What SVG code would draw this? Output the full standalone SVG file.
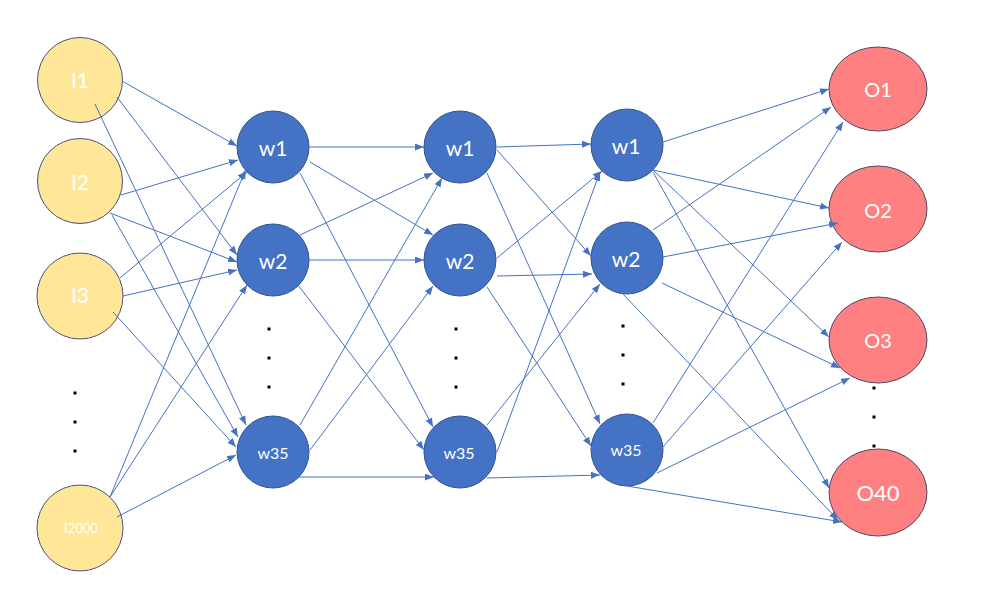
<svg xmlns="http://www.w3.org/2000/svg" width="986" height="602" viewBox="0 0 986 602">
<style>
.inp{fill:#FFE699;stroke:#4A5270;stroke-width:1}
.hid{fill:#4472C4;stroke:#2F528F;stroke-width:1}
.out{fill:#FF8080;stroke:#4A4A6A;stroke-width:1}
.lbl{fill:#FFFFFF;font-family:Lato,"Open Sans","Liberation Sans",sans-serif;text-anchor:middle}
.dot{fill:#000000}
#connectors line{stroke:#4472C4;stroke-width:1;fill:none;marker-end:url(#arr)}
</style>
<defs>
<marker id="arr" markerUnits="userSpaceOnUse" markerWidth="10" markerHeight="8" refX="9" refY="3.5" orient="auto">
<path d="M0,0 L9,3.5 L0,7 z" fill="#4472C4"/>
</marker>
</defs>
<rect width="986" height="602" fill="#FFFFFF"/>

<g id="I1"><circle class="inp" cx="80" cy="80" r="42.5"/><text class="lbl" x="80" y="87.5" font-size="21">I1</text></g>
<g id="I2"><circle class="inp" cx="80" cy="181" r="42.5"/><text class="lbl" x="80" y="190" font-size="21">I2</text></g>
<g id="I3"><circle class="inp" cx="80" cy="296" r="43"/><text class="lbl" x="80" y="302.5" font-size="21">I3</text></g>
<g id="I2000"><circle class="inp" cx="80" cy="528" r="43"/><text class="lbl" x="81" y="533" font-size="13">I2000</text></g>

<g id="L1_w1"><circle class="hid" cx="273" cy="147" r="36"/><text class="lbl" x="273" y="155.5" font-size="21">w1</text></g>
<g id="L1_w2"><circle class="hid" cx="273" cy="260" r="36"/><text class="lbl" x="273" y="268.5" font-size="21">w2</text></g>
<g id="L1_w35"><circle class="hid" cx="273" cy="452" r="36"/><text class="lbl" x="273" y="458.5" font-size="16">w35</text></g>

<g id="L2_w1"><circle class="hid" cx="460" cy="147" r="36"/><text class="lbl" x="460" y="155.5" font-size="21">w1</text></g>
<g id="L2_w2"><circle class="hid" cx="460" cy="260" r="36"/><text class="lbl" x="460" y="268.5" font-size="21">w2</text></g>
<g id="L2_w35"><circle class="hid" cx="460" cy="452" r="36"/><text class="lbl" x="459" y="458.5" font-size="16">w35</text></g>

<g id="L3_w1"><circle class="hid" cx="627" cy="145" r="36"/><text class="lbl" x="626" y="153.5" font-size="21">w1</text></g>
<g id="L3_w2"><circle class="hid" cx="627" cy="258" r="36"/><text class="lbl" x="626" y="266.5" font-size="21">w2</text></g>
<g id="L3_w35"><circle class="hid" cx="627" cy="450" r="36"/><text class="lbl" x="626" y="456" font-size="16">w35</text></g>

<g id="O1"><ellipse class="out" cx="878" cy="89" rx="49" ry="42"/><text class="lbl" x="878" y="96.5" font-size="20">O1</text></g>
<g id="O2"><ellipse class="out" cx="878" cy="209" rx="49" ry="43"/><text class="lbl" x="878" y="217.5" font-size="20">O2</text></g>
<g id="O3"><ellipse class="out" cx="878" cy="340" rx="49" ry="43"/><text class="lbl" x="878" y="347.5" font-size="20">O3</text></g>
<g id="O40"><ellipse class="out" cx="878" cy="492.5" rx="49" ry="43.5"/><text class="lbl" x="878" y="500.5" font-size="22">O40</text></g>

<g id="ellipsis">
<rect class="dot" x="73.5" y="391.5" width="3" height="3"/>
<rect class="dot" x="73.5" y="420.5" width="3" height="3"/>
<rect class="dot" x="73.5" y="449.5" width="3" height="3"/>
<rect class="dot" x="267.5" y="327.5" width="3" height="3"/>
<rect class="dot" x="267.5" y="356.5" width="3" height="3"/>
<rect class="dot" x="267.5" y="385.5" width="3" height="3"/>
<rect class="dot" x="454.5" y="327.5" width="3" height="3"/>
<rect class="dot" x="454.5" y="356.5" width="3" height="3"/>
<rect class="dot" x="454.5" y="385.5" width="3" height="3"/>
<rect class="dot" x="621.5" y="324.5" width="3" height="3"/>
<rect class="dot" x="621.5" y="353.5" width="3" height="3"/>
<rect class="dot" x="621.5" y="382.5" width="3" height="3"/>
<rect class="dot" x="872.5" y="386.5" width="3" height="3"/>
<rect class="dot" x="872.5" y="415.5" width="3" height="3"/>
<rect class="dot" x="872.5" y="444.5" width="3" height="3"/>
</g>

<g id="connectors">
<line x1="122" y1="81" x2="237" y2="146"/>
<line x1="117" y1="97" x2="237" y2="255"/>
<line x1="95" y1="104" x2="246" y2="425"/>
<line x1="121" y1="195" x2="238" y2="160"/>
<line x1="110" y1="213" x2="237" y2="262"/>
<line x1="112" y1="215" x2="238" y2="437"/>
<line x1="120" y1="278" x2="247" y2="172"/>
<line x1="123" y1="296" x2="237" y2="270"/>
<line x1="113" y1="312" x2="236" y2="447"/>
<line x1="110" y1="497" x2="245.5" y2="170"/>
<line x1="110" y1="497" x2="247" y2="285"/>
<line x1="117" y1="517" x2="236" y2="455"/>

<line x1="309" y1="147" x2="424" y2="147"/>
<line x1="310" y1="162" x2="433" y2="235"/>
<line x1="300" y1="173" x2="433" y2="427"/>
<line x1="300" y1="235" x2="433" y2="173"/>
<line x1="309" y1="260" x2="424" y2="260"/>
<line x1="298" y1="285" x2="424" y2="450"/>
<line x1="300" y1="425" x2="442" y2="178"/>
<line x1="310" y1="450" x2="433" y2="286"/>
<line x1="297" y1="477" x2="434" y2="477"/>

<line x1="497" y1="147" x2="591" y2="144"/>
<line x1="497" y1="150" x2="591" y2="256"/>
<line x1="487" y1="173" x2="600" y2="424"/>
<line x1="497" y1="258" x2="602" y2="171"/>
<line x1="497" y1="276" x2="592" y2="274"/>
<line x1="487" y1="287" x2="591" y2="446"/>
<line x1="497" y1="452" x2="600" y2="172"/>
<line x1="487" y1="425" x2="600" y2="284"/>
<line x1="487" y1="478" x2="600" y2="475"/>

<line x1="663" y1="142" x2="829" y2="89"/>
<line x1="653" y1="170" x2="829" y2="208"/>
<line x1="653" y1="170" x2="829" y2="337"/>
<line x1="653" y1="172" x2="829" y2="488"/>
<line x1="653" y1="230" x2="831" y2="107"/>
<line x1="663" y1="257" x2="838" y2="223"/>
<line x1="662" y1="283" x2="840" y2="368"/>
<line x1="622" y1="293" x2="838" y2="520"/>
<line x1="653" y1="423" x2="843" y2="122"/>
<line x1="662" y1="448" x2="842" y2="242"/>
<line x1="657" y1="473" x2="850" y2="378"/>
<line x1="627" y1="486" x2="842" y2="522"/>
</g>
</svg>
